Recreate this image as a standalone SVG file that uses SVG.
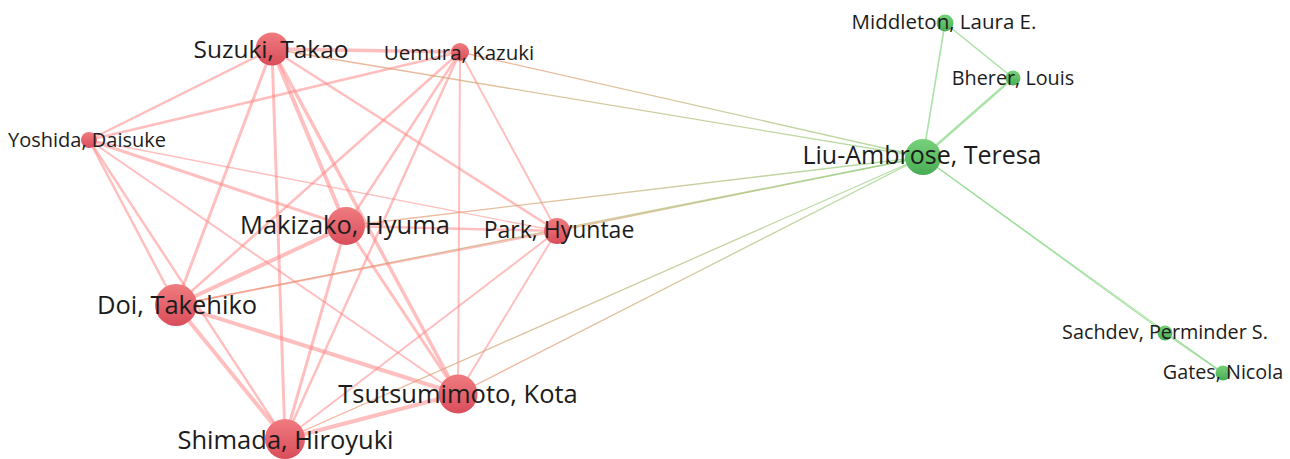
<svg xmlns="http://www.w3.org/2000/svg" width="1290" height="459" viewBox="0 0 1290 459">
<style>
.e{stroke:#ff7f7f;stroke-opacity:0.5;fill:none;stroke-linecap:round}
.g{stroke:#8fd88a;stroke-opacity:0.75;fill:none}
.x{fill:none;stroke-width:1.3;stroke-opacity:0.7}
.lbl{font-family:"Open Sans","Noto Sans","DejaVu Sans",sans-serif;fill:#1c1c1c;text-anchor:middle}
.red{fill:url(#rg)}
.grn{fill:url(#gg)}
</style>
<defs>
<linearGradient id="rg" x1="0" y1="0" x2="0" y2="1"><stop offset="0" stop-color="#f07b7f"/><stop offset="1" stop-color="#d94d5b"/></linearGradient>
<linearGradient id="gg" x1="0" y1="0" x2="0" y2="1"><stop offset="0" stop-color="#77d27a"/><stop offset="1" stop-color="#49ad55"/></linearGradient>
<linearGradient id="xU" gradientUnits="userSpaceOnUse" x1="460" y1="52" x2="923" y2="157"><stop offset="0" stop-color="#f29070"/><stop offset="1" stop-color="#8fd47f"/></linearGradient>
<linearGradient id="xS" gradientUnits="userSpaceOnUse" x1="272" y1="49" x2="923" y2="157"><stop offset="0" stop-color="#f29070"/><stop offset="1" stop-color="#8fd47f"/></linearGradient>
<linearGradient id="xM" gradientUnits="userSpaceOnUse" x1="346" y1="226" x2="923" y2="157"><stop offset="0" stop-color="#f29070"/><stop offset="1" stop-color="#8fd47f"/></linearGradient>
<linearGradient id="xP" gradientUnits="userSpaceOnUse" x1="557" y1="231" x2="923" y2="157"><stop offset="0" stop-color="#e8a070"/><stop offset="1" stop-color="#8fd47f"/></linearGradient>
<linearGradient id="xD" gradientUnits="userSpaceOnUse" x1="176" y1="305" x2="923" y2="157"><stop offset="0" stop-color="#f29070"/><stop offset="1" stop-color="#8fd47f"/></linearGradient>
<linearGradient id="xT" gradientUnits="userSpaceOnUse" x1="458" y1="394" x2="923" y2="157"><stop offset="0" stop-color="#f29070"/><stop offset="1" stop-color="#8fd47f"/></linearGradient>
<linearGradient id="xH" gradientUnits="userSpaceOnUse" x1="285" y1="439" x2="923" y2="157"><stop offset="0" stop-color="#f29070"/><stop offset="1" stop-color="#8fd47f"/></linearGradient>
</defs>
<rect width="1290" height="459" fill="#ffffff"/>
<g id="connectors">
<line class="e" x1="272" y1="49" x2="460" y2="52" stroke-width="3.5"/>
<line class="e" x1="272" y1="49" x2="89" y2="140" stroke-width="2.5"/>
<line class="e" x1="272" y1="49" x2="346" y2="226" stroke-width="4"/>
<line class="e" x1="272" y1="49" x2="557" y2="231" stroke-width="2.5"/>
<line class="e" x1="272" y1="49" x2="176" y2="305" stroke-width="3"/>
<line class="e" x1="272" y1="49" x2="458" y2="394" stroke-width="3.5"/>
<line class="e" x1="272" y1="49" x2="285" y2="439" stroke-width="3"/>
<line class="e" x1="460" y1="52" x2="89" y2="140" stroke-width="2.5"/>
<line class="e" x1="460" y1="52" x2="346" y2="226" stroke-width="2.5"/>
<line class="e" x1="460" y1="52" x2="557" y2="231" stroke-width="2"/>
<line class="e" x1="460" y1="52" x2="176" y2="305" stroke-width="2.5"/>
<line class="e" x1="460" y1="52" x2="458" y2="394" stroke-width="2"/>
<line class="e" x1="460" y1="52" x2="285" y2="439" stroke-width="2.5"/>
<line class="e" x1="89" y1="140" x2="346" y2="226" stroke-width="3"/>
<line class="e" x1="89" y1="140" x2="557" y2="231" stroke-width="1.4"/>
<line class="e" x1="89" y1="140" x2="176" y2="305" stroke-width="2.5"/>
<line class="e" x1="89" y1="140" x2="458" y2="394" stroke-width="2"/>
<line class="e" x1="89" y1="140" x2="285" y2="439" stroke-width="2.5"/>
<line class="e" x1="346" y1="226" x2="557" y2="231" stroke-width="2.5"/>
<line class="e" x1="346" y1="226" x2="176" y2="305" stroke-width="4"/>
<line class="e" x1="346" y1="226" x2="458" y2="394" stroke-width="3"/>
<line class="e" x1="346" y1="226" x2="285" y2="439" stroke-width="3"/>
<line class="e" x1="557" y1="231" x2="176" y2="305" stroke-width="2"/>
<line class="e" x1="557" y1="231" x2="458" y2="394" stroke-width="2"/>
<line class="e" x1="557" y1="231" x2="285" y2="439" stroke-width="2"/>
<line class="e" x1="176" y1="305" x2="458" y2="394" stroke-width="4"/>
<line class="e" x1="176" y1="305" x2="285" y2="439" stroke-width="4"/>
<line class="e" x1="458" y1="394" x2="285" y2="439" stroke-width="4"/>
<line class="x" x1="460" y1="52" x2="923" y2="157" stroke="url(#xU)"/>
<line class="x" x1="272" y1="49" x2="923" y2="157" stroke="url(#xS)"/>
<line class="x" x1="346" y1="226" x2="923" y2="157" stroke="url(#xM)"/>
<line class="x" x1="557" y1="231" x2="923" y2="157" stroke="url(#xP)" stroke-width="2"/>
<line class="x" x1="176" y1="305" x2="923" y2="157" stroke="url(#xD)"/>
<line class="x" x1="458" y1="394" x2="923" y2="157" stroke="url(#xT)"/>
<line class="x" x1="285" y1="439" x2="923" y2="157" stroke="url(#xH)"/>
<line class="g" x1="923" y1="157" x2="945" y2="23" stroke-width="1.6"/>
<line class="g" x1="923" y1="157" x2="1013" y2="78" stroke-width="2.4"/>
<line class="g" x1="945" y1="23" x2="1013" y2="78" stroke-width="1.6"/>
<line class="g" x1="923" y1="157" x2="1165" y2="333" stroke-width="1.4"/>
<line class="g" x1="923" y1="157" x2="1223" y2="373" stroke-width="1"/>
<line class="g" x1="1165" y1="333" x2="1223" y2="373" stroke-width="1.8"/>
</g>
<g id="n-suzuki"><circle class="red" cx="272" cy="49" r="16.5"/><text class="lbl" x="271" y="57.5" font-size="24.5">Suzuki, Takao</text></g>
<g id="n-uemura"><circle class="red" cx="460" cy="52" r="9"/><text class="lbl" x="459" y="60" font-size="20.5">Uemura, Kazuki</text></g>
<g id="n-yoshida"><circle class="red" cx="89" cy="140" r="8"/><text class="lbl" x="87" y="146.5" font-size="20">Yoshida, Daisuke</text></g>
<g id="n-makizako"><circle class="red" cx="346" cy="226" r="19"/><text class="lbl" x="345" y="233.5" font-size="25.5">Makizako, Hyuma</text></g>
<g id="n-park"><circle class="red" cx="557" cy="231" r="13"/><text class="lbl" x="559" y="237.8" font-size="23">Park, Hyuntae</text></g>
<g id="n-doi"><circle class="red" cx="176" cy="305" r="21"/><text class="lbl" x="177" y="314" font-size="25.5">Doi, Takehiko</text></g>
<g id="n-tsutsumimoto"><circle class="red" cx="458" cy="394" r="19.5"/><text class="lbl" x="458" y="403" font-size="25.5">Tsutsumimoto, Kota</text></g>
<g id="n-shimada"><circle class="red" cx="285" cy="439" r="20"/><text class="lbl" x="285.5" y="449" font-size="25.5">Shimada, Hiroyuki</text></g>
<g id="n-liu"><circle class="grn" cx="923" cy="157" r="18"/><text class="lbl" x="922" y="164" font-size="25">Liu-Ambrose, Teresa</text></g>
<g id="n-middleton"><circle class="grn" cx="945" cy="23" r="8.5"/><text class="lbl" x="944" y="29.3" font-size="20.5">Middleton, Laura E.</text></g>
<g id="n-bherer"><circle class="grn" cx="1013" cy="78" r="7.5"/><text class="lbl" x="1013" y="85" font-size="19.8">Bherer, Louis</text></g>
<g id="n-sachdev"><circle class="grn" cx="1165" cy="333" r="7.5"/><text class="lbl" x="1165" y="339.3" font-size="19.8">Sachdev, Perminder S.</text></g>
<g id="n-gates"><circle class="grn" cx="1223" cy="373" r="7.5"/><text class="lbl" x="1223" y="379.3" font-size="19.8">Gates, Nicola</text></g>
</svg>
